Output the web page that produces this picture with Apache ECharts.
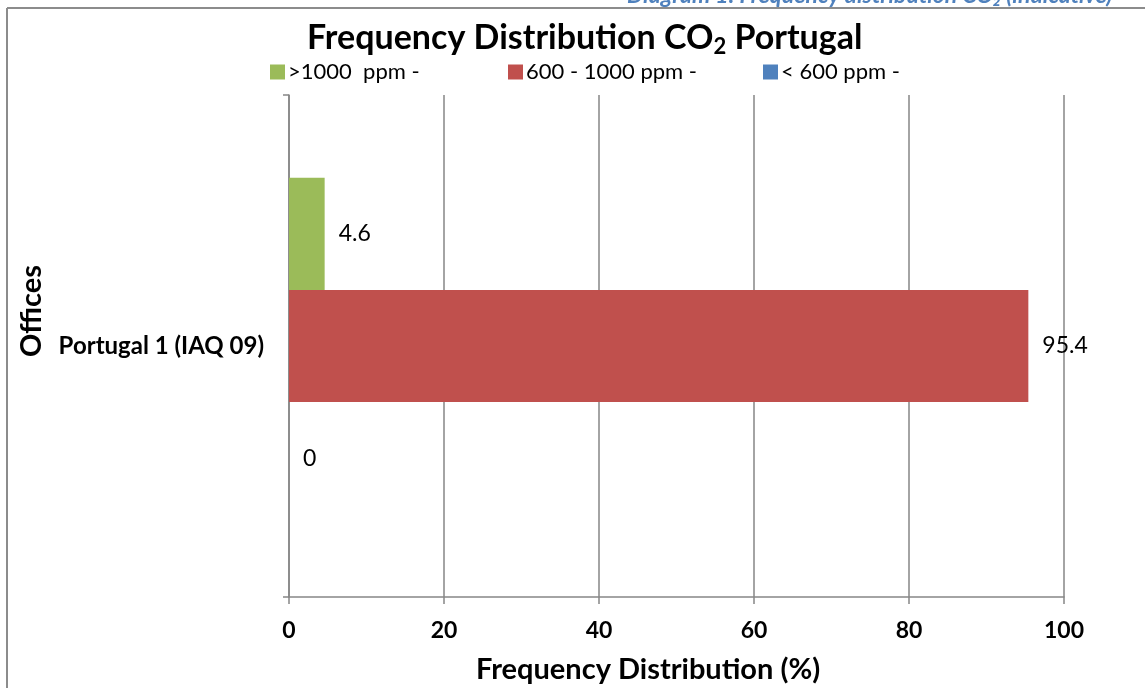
<!DOCTYPE html>
<html>
<head>
<meta charset="utf-8">
<script src="https://cdn.jsdelivr.net/npm/echarts@6/dist/echarts.min.js"></script>
<style>
html,body{margin:0;padding:0;background:#fff;}
#chart{width:1145px;height:688px;}
</style>
</head>
<body>
<div id="chart"></div>
<script>
const categories = ['Portugal 1 (IAQ 09)'];
const seriesNames = ['>1000  ppm -', '600 - 1000 ppm -', '< 600 ppm -'];
const highValues = [4.6];
const midValues = [95.4];
const lowValues = [0];
const xTicks = [0, 20, 40, 60, 80, 100];

const FONT = 'Lato';
const colors = ['#9BBB59', '#C0504D', '#4F81BD'];
const chart = echarts.init(document.getElementById('chart'));

function legendAt(name, left) {
  return {
    data: [name], left: left, top: 61, padding: 0, itemWidth: 15, itemHeight: 15, itemGap: 0,
    icon: 'rect', selectedMode: false,
    textStyle: { fontFamily: FONT, fontSize: 22, color: '#000', padding: [0, 0, 0, -2] }
  };
}

const dataSets = [highValues, midValues, lowValues];
chart.setOption({
  animation: false,
  backgroundColor: '#fff',
  title: {
    text: '{a|Frequency Distribution CO}{s|2}{a| Portugal}',
    left: 307, top: 18, padding: 0,
    textStyle: {
      rich: {
        a: { fontFamily: FONT, fontWeight: 'bold', fontSize: 34, color: '#000' },
        s: { fontFamily: FONT, fontWeight: 'bold', fontSize: 22, color: '#000', padding: [18, 0, 0, 0] }
      }
    }
  },
  legend: [legendAt(seriesNames[0], 270), legendAt(seriesNames[1], 508), legendAt(seriesNames[2], 763)],
  grid: { left: 289, right: 81, top: 95, bottom: 91 },
  xAxis: {
    type: 'value', min: xTicks[0], max: xTicks[xTicks.length - 1], interval: 20,
    axisLine: { show: true, lineStyle: { color: '#868686', width: 1.5 } },
    axisTick: { show: true, length: 7, lineStyle: { color: '#868686', width: 1.5 } },
    splitLine: { show: true, lineStyle: { color: '#868686', width: 1.5 } },
    axisLabel: { fontFamily: FONT, fontWeight: 'bold', fontSize: 23, color: '#000', margin: 22 }
  },
  yAxis: {
    type: 'category', data: categories,
    axisLine: { show: true, lineStyle: { color: '#868686', width: 1.5 } },
    axisTick: { show: true, length: 6, lineStyle: { color: '#868686', width: 1.5 } },
    axisLabel: { fontFamily: FONT, fontWeight: 'bold', fontSize: 24, color: '#000', margin: 25 }
  },
  series: seriesNames.map((n, i) => ({
    name: n, type: 'bar', data: dataSets[i],
    barGap: '0%', barCategoryGap: '33%',
    itemStyle: { color: colors[i] },
    label: { show: true, position: 'right', distance: 14, fontFamily: FONT, fontSize: 23, color: '#000' }
  })),
  graphic: [
    { type: 'text', left: 627, top: -16, style: { text: 'Diagram 1: Frequency distribution CO\u2082 (indicative)', fontFamily: FONT, fontStyle: 'italic', fontWeight: 'bold', fontSize: 23, fill: '#4F81BD' } },
    { type: 'line', shape: { x1: 7, y1: 8, x2: 1145, y2: 8 }, style: { stroke: '#8c8c8c', lineWidth: 2 } },
    { type: 'line', shape: { x1: 7, y1: 8, x2: 7, y2: 688 }, style: { stroke: '#8c8c8c', lineWidth: 2 } },
    { type: 'text', x: 32, y: 311, rotation: Math.PI / 2, style: { text: 'Offices', fontFamily: FONT, fontWeight: 'bold', fontSize: 29, fill: '#000', align: 'center', verticalAlign: 'middle' } },
    { type: 'text', x: 648, y: 670, style: { text: 'Frequency Distribution (%)', fontFamily: FONT, fontWeight: 'bold', fontSize: 29, fill: '#000', align: 'center', verticalAlign: 'middle' } }
  ]
});
</script>
</body>
</html>
